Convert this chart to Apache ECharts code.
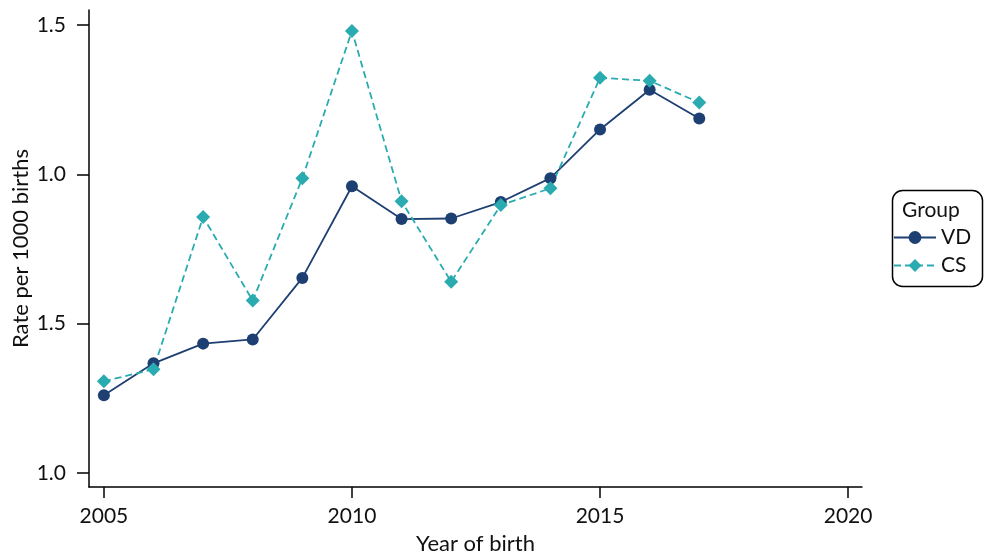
<!DOCTYPE html>
<html><head><meta charset="utf-8">
<script src="https://cdn.jsdelivr.net/npm/echarts@6/dist/echarts.min.js"></script>
<style>html,body{margin:0;padding:0;background:#fff}#c{width:984px;height:560px}</style>
</head><body><div id="c"></div>
<script>
const years = [2005,2006,2007,2008,2009,2010,2011,2012,2013,2014,2015,2016,2017];
const vd = [1.26,1.367,1.433,1.447,1.653,1.96,1.85,1.852,1.907,1.987,2.15,2.283,2.187];
const cs = [1.307,1.347,1.857,1.577,1.987,2.48,1.91,1.64,1.897,1.953,2.323,2.313,2.24];
const yTickValues = [1.0,1.5,2.0,2.5];
const yTickLabels = ['1.0','1.5','1.0','1.5'];
const xTicks = [2005,2010,2015,2020];
const seriesNames = ['VD','CS'];
const legendTitle = 'Group';

const font = 'Lato, "Open Sans", sans-serif';
const chart = echarts.init(document.getElementById('c'));
chart.setOption({
  animation:false,
  grid:{left:89,right:122,top:10,bottom:73,containLabel:false,outerBoundsMode:'none'},
  xAxis:{type:'value',min:2004.7,max:2020.28,interval:5,
    name:'Year of birth',nameLocation:'middle',nameGap:46,nameMoveOverlap:false,
    nameTextStyle:{fontFamily:font,fontSize:22,color:'#111'},
    axisLine:{show:true,onZero:false,lineStyle:{color:'#000',width:1.5}},
    axisTick:{show:true,length:11,lineStyle:{color:'#000',width:1.5},customValues:xTicks},
    axisLabel:{fontFamily:font,fontSize:21,color:'#111',margin:19,customValues:xTicks,formatter:v=>String(v)},
    splitLine:{show:false}},
  yAxis:{type:'value',min:0.953,max:2.55,
    name:'Rate per 1000 births',nameLocation:'middle',nameGap:57,nameMoveOverlap:false,
    nameTextStyle:{fontFamily:font,fontSize:22,color:'#111'},
    axisLine:{show:true,onZero:false,lineStyle:{color:'#000',width:1.5}},
    axisTick:{show:true,length:12,lineStyle:{color:'#000',width:1.5},customValues:yTickValues},
    axisLabel:{fontFamily:font,fontSize:21,color:'#111',margin:23,customValues:yTickValues,
      formatter:v=>{const i=yTickValues.findIndex(t=>Math.abs(t-v)<1e-6);return i>=0?yTickLabels[i]:'';}},
    splitLine:{show:false}},
  legend:{orient:'vertical',left:893,top:227,itemGap:7,itemWidth:42,itemHeight:16,padding:0,
    textStyle:{fontFamily:font,fontSize:21,color:'#111'},data:seriesNames},
  graphic:[
    {type:'rect',shape:{x:892.5,y:190.5,width:90,height:96,r:10},style:{fill:'#fff',stroke:'#000',lineWidth:1.5},z:-1},
    {type:'text',left:902,top:200,style:{text:legendTitle,font:'21px '+font,fill:'#111'}}
  ],
  series:[
    {name:seriesNames[0],type:'line',data:years.map((y,i)=>[y,vd[i]]),
      symbol:'circle',symbolSize:12,itemStyle:{color:'#1d3f72'},lineStyle:{color:'#1d3f72',width:1.8}},
    {name:seriesNames[1],type:'line',data:years.map((y,i)=>[y,cs[i]]),
      symbol:'diamond',symbolSize:14,itemStyle:{color:'#2aabb0'},lineStyle:{color:'#2aabb0',width:1.8,type:[7,4]}}
  ]
});
</script></body></html>
